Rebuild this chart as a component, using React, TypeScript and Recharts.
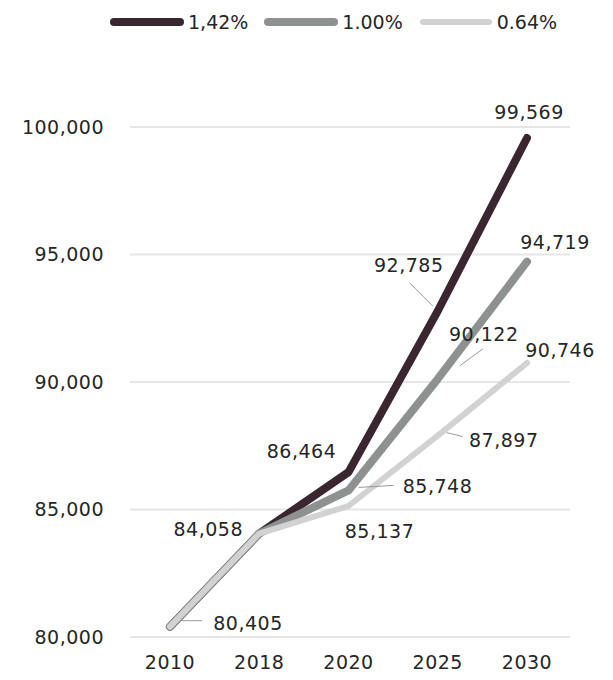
import { LineChart, Line, XAxis, YAxis, CartesianGrid, Legend, LabelList } from 'recharts';

const years = ['2010', '2018', '2020', '2025', '2030'];
const rate142 = [80405, 84058, 86464, 92785, 99569];
const rate100 = [80405, 84058, 85748, 90122, 94719];
const rate064 = [80405, 84058, 85137, 87897, 90746];
const seriesNames = ['1,42%', '1.00%', '0.64%'];
const yTicks = [80000, 85000, 90000, 95000, 100000];

const FONT = '"DejaVu Sans", sans-serif';

const data = years.map((year, i) => ({
  year,
  r142: rate142[i],
  r100: rate100[i],
  r064: rate064[i],
}));

const SERIES = [
  { key: 'r142', name: seriesNames[0], color: '#3a2630', width: 8 },
  { key: 'r100', name: seriesNames[1], color: '#8d9291', width: 8 },
  { key: 'r064', name: seriesNames[2], color: '#d2d2d2', width: 6 },
];

// label offsets from the point (label centre), optional leader line
type Place = { dx: number; dy: number; leader?: [number, number, number, number] } | null;

const PLACES: Record<string, Place[]> = {
  r142: [null, null, { dx: -47, dy: -21 }, { dx: -29, dy: -46, leader: [-28, -28, -5, -5] }, { dx: 2, dy: -26 }],
  r100: [null, null, { dx: 89, dy: -4, leader: [10, -3, 45, -5] }, { dx: 46, dy: -45, leader: [45, -30, 22, -13] }, { dx: 28, dy: -20 }],
  r064: [
    { dx: 78, dy: -4, leader: [12, -6, 32, -6] },
    { dx: -51, dy: -5 },
    { dx: 31, dy: 25 },
    { dx: 66, dy: 4, leader: [9, -3, 25, 1] },
    { dx: 33, dy: -13 },
  ],
};

const fmt = (v: number) => v.toLocaleString('en-US');

function makeLabel(key: string) {
  return (props: any) => {
    const p = PLACES[key][props.index];
    if (!p) return null;
    const x = Number(props.x);
    const y = Number(props.y);
    return (
      <g>
        {p.leader && (
          <line
            x1={x + p.leader[0]} y1={y + p.leader[1]}
            x2={x + p.leader[2]} y2={y + p.leader[3]}
            stroke="#9a9a9a" strokeWidth={1}
          />
        )}
        <text
          x={x + p.dx} y={y + p.dy}
          textAnchor="middle" dominantBaseline="central"
          fontFamily={FONT} fontSize={19} fill="#262626" letterSpacing={0.5}
        >
          {fmt(Number(props.value))}
        </text>
      </g>
    );
  };
}

function LegendContent() {
  return (
    <div style={{ display: 'flex', alignItems: 'center', paddingLeft: 108, fontFamily: FONT, fontSize: 19, color: '#262626' }}>
      {SERIES.map((s) => (
        <div key={s.key} style={{ display: 'flex', alignItems: 'center', marginRight: 14 }}>
          <svg width={78} height={12}>
            <line x1={6} y1={6} x2={72} y2={6} stroke={s.color} strokeWidth={s.width} strokeLinecap="round" />
          </svg>
          <span style={{ marginLeft: 2 }}>{s.name}</span>
        </div>
      ))}
    </div>
  );
}

export default function App() {
  return (
    <div style={{ position: 'absolute', left: 0, top: 0, background: '#fff' }}>
      <LineChart width={613} height={680} data={data} margin={{ top: 127, right: 43, bottom: 0, left: 0 }}>
        <CartesianGrid horizontal vertical={false} stroke="#e6e6e6" strokeWidth={2} />
        <XAxis
          dataKey="year"
          height={43}
          padding={{ left: 40, right: 43 }}
          axisLine={false}
          tickLine={false}
          tickSize={0}
          tickMargin={19}
          tick={{ fontFamily: FONT, fontSize: 19, fill: '#262626', letterSpacing: 0.5 }}
        />
        <YAxis
          width={130}
          domain={[80000, 100000]}
          ticks={yTicks}
          tickFormatter={fmt}
          axisLine={false}
          tickLine={false}
          tickSize={0}
          tickMargin={26}
          tick={{ fontFamily: FONT, fontSize: 19, fill: '#262626', letterSpacing: 0.5 }}
        />
        <Legend
          verticalAlign="middle"
          align="center"
          wrapperStyle={{ top: 11, left: 0, width: 613 }}
          content={() => <LegendContent />}
        />
        {SERIES.map((s) => (
          <Line
            key={s.key}
            dataKey={s.key}
            name={s.name}
            stroke={s.color}
            strokeWidth={s.width}
            strokeLinecap="round"
            strokeLinejoin="round"
            dot={false}
            activeDot={false}
            isAnimationActive={false}
          >
            <LabelList dataKey={s.key} content={makeLabel(s.key)} />
          </Line>
        ))}
      </LineChart>
    </div>
  );
}
